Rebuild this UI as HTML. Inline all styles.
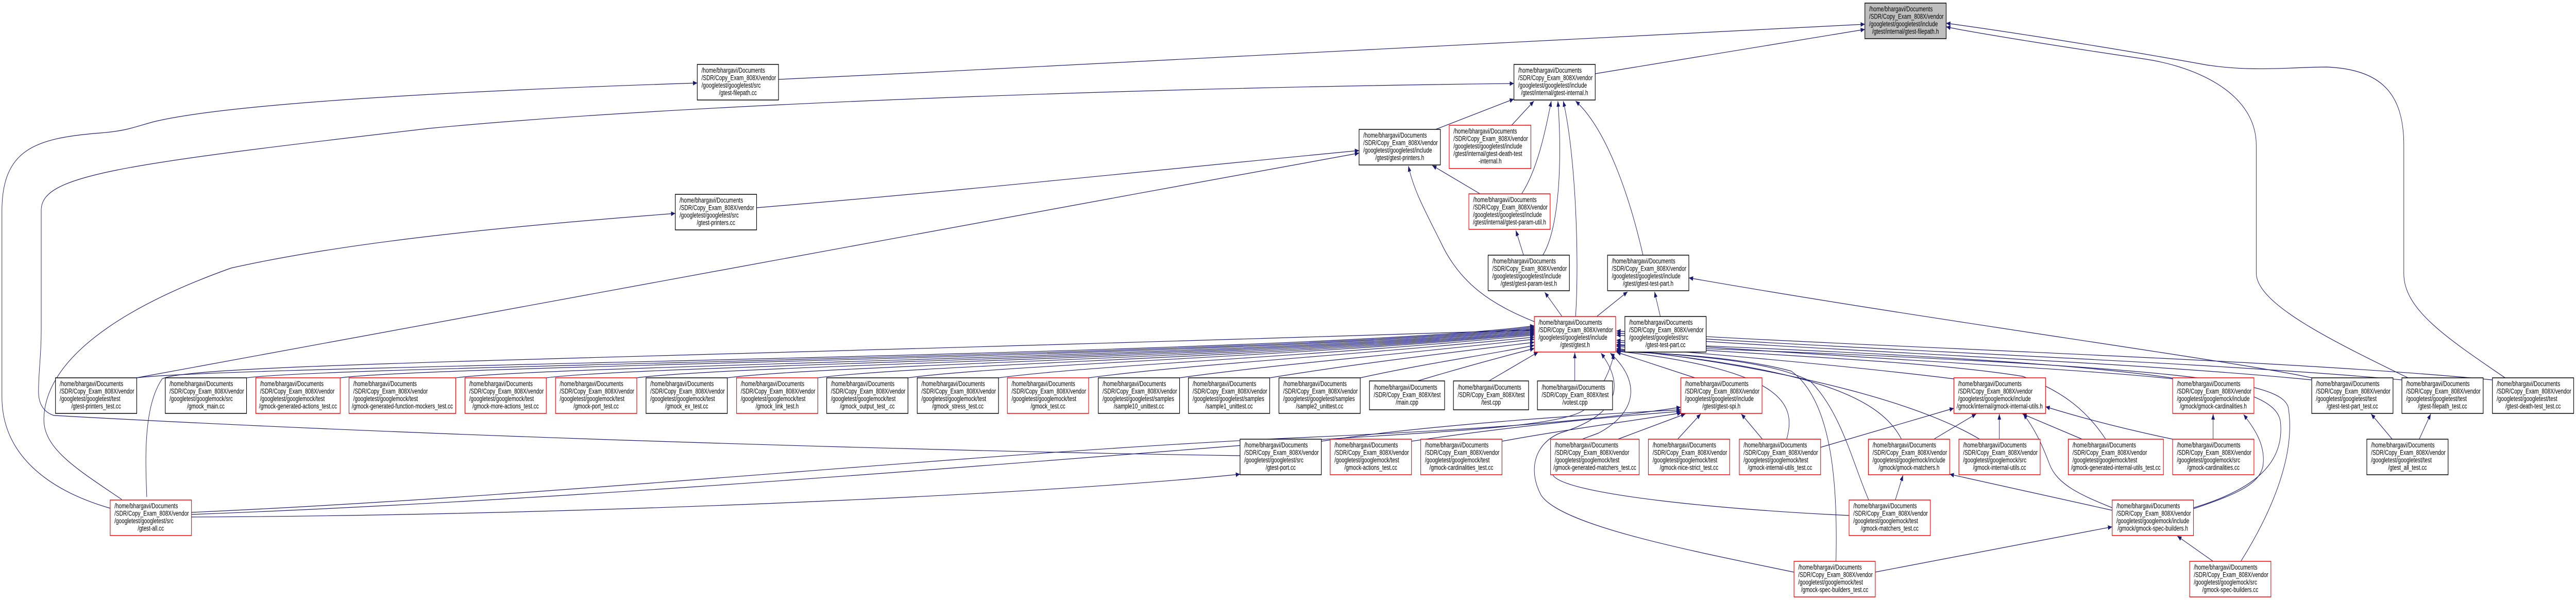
<!DOCTYPE html>
<html><head><meta charset="utf-8">
<meta name="viewport" content="width=6687">
<style>
html,body{margin:0;padding:0;background:#fff;width:100%;height:100%;overflow:hidden;}
svg{display:block;width:100vw;height:100vh;}
text{font-family:"Liberation Sans",sans-serif;font-size:13.5px;fill:#000;}
.m{text-anchor:middle;}
rect.b{fill:#fff;stroke:#000;stroke-width:1.5;}
rect.r{fill:#fff;stroke:#ff0000;stroke-width:1.5;}
rect.g{fill:#bfbfbf;stroke:#000;stroke-width:1.5;}
path.e{fill:none;stroke:#191970;stroke-width:1.2;marker-end:url(#a);}
</style></head><body>
<svg viewBox="0 0 6687 1164" preserveAspectRatio="none" xmlns="http://www.w3.org/2000/svg">
<defs><marker id="a" markerUnits="userSpaceOnUse" markerWidth="12" markerHeight="9" refX="11" refY="4.5" orient="auto"><path d="M0,0 L11,4.5 L0,9 z" fill="#191970"/></marker></defs>

<path class="e" d="M2021,154 C3000,120 4000,80 4841,47"/>
<path class="e" d="M4141,143 C4400,110 4650,80 4841,57"/>
<path class="e" d="M286,986 C120,950 5,880 5,770 L5,410 C5,290 90,268 260,258 C330,254 350,246 400,236 C600,200 1200,176 1810,161"/>
<path class="e" d="M3219,884 C2500,876 1200,850 140,806 C115,800 100,785 100,760 C100,720 107,690 107,640 L107,408 C107,340 300,320 1115,249 C1800,200 3000,170 3930,162"/>
<path class="e" d="M354,733 C1200,620 2400,450 3528,297"/>
<path class="e" d="M316,969 C200,910 110,870 114,810 C120,700 300,600 600,520 C900,470 1300,440 1753,414"/>
<path class="e" d="M1964,403 C2500,370 3000,330 3528,292"/>
<path class="e" d="M3727,251 C3800,230 3870,210 3930,192"/>
<path class="e" d="M3924,243 L3982,196"/>
<path class="e" d="M3950,376 C3990,330 4010,260 4027,196"/>
<path class="e" d="M4005,495 C4050,440 4055,300 4044,196"/>
<path class="e" d="M4090,614 C4100,500 4090,300 4058,196"/>
<path class="e" d="M4265,495 C4230,380 4170,250 4090,196"/>
<path class="e" d="M3955,495 L3935,447"/>
<path class="e" d="M3842,376 L3718,321"/>
<path class="e" d="M3983,624 C3870,590 3790,550 3740,470 C3700,410 3670,370 3656,322"/>
<path class="e" d="M4055,614 L4010,567"/>
<path class="e" d="M4145,614 L4225,566"/>
<path class="e" d="M4310,614 L4295,566"/>
<path class="e" d="M6001,733 C5800,700 5000,620 4384,539"/>
<path class="e" d="M6251,733 C6050,660 5860,590 5857,531 L5857,282 C5857,180 5700,130 5572,115 C5300,85 5100,60 5052,52"/>
<path class="e" d="M6503,733 C6350,655 6240,600 6240,531 L6240,282 C6240,180 6180,135 6041,130 C5950,130 5850,140 5728,126 C5500,95 5200,60 5052,45"/>
<path class="e" d="M381,964 C378,900 370,790 421,735 C500,705 1500,700 3983,640"/>
<path class="e" d="M497,994 C1500,960 2500,880 3345,850 C3800,835 4100,820 4363,790"/>
<path class="e" d="M497,1003 C1500,1000 2700,960 3219,920"/>
<path class="e" d="M497,998 C1500,970 2600,900 3345,857 C3700,838 4080,830 4120,790 C4160,750 4180,720 4190,686"/>

<path class="e" d="M355,733 C600,708 3400,690 3983,632"/>
<path class="e" d="M640,733 C890,708 3400,690 3983,634"/>
<path class="e" d="M883,733 C1130,708 3400,690 3983,636"/>
<path class="e" d="M1183,733 C1430,708 3400,690 3983,638"/>
<path class="e" d="M1418,733 C1670,708 3400,690 3983,640"/>
<path class="e" d="M1653,733 C1900,708 3400,690 3983,642"/>
<path class="e" d="M1888,733 C2140,708 3400,690 3983,644"/>
<path class="e" d="M2123,733 C2370,708 3400,690 3983,646"/>
<path class="e" d="M2357,733 C2600,708 3400,690 3983,648"/>
<path class="e" d="M2592,733 C2840,708 3450,690 3983,650"/>
<path class="e" d="M2826,733 C3070,708 3500,690 3983,654"/>
<path class="e" d="M3062,733 C3300,708 3600,690 3983,658"/>
<path class="e" d="M3296,733 C3500,708 3700,690 3983,664"/>
<path class="e" d="M3531,733 C3700,705 3850,690 3983,670"/>
<path class="e" d="M3680,739 C3800,712 3900,692 3983,676"/>
<path class="e" d="M3865,739 L3993,683"/>
<path class="e" d="M4088,739 L4088,684"/>

<path class="e" d="M4400,733 L4196,683"/>
<path class="e" d="M5072,735 C4800,710 4500,690 4196,672"/>
<path class="e" d="M5640,735 C5400,715 4700,690 4196,660"/>
<path class="e" d="M6001,737 C5500,700 4700,680 4196,650"/>
<path class="e" d="M6235,737 C5700,700 4700,675 4196,646"/>
<path class="e" d="M6470,737 C5900,695 4700,670 4196,642"/>
<path class="e" d="M5466,852 C5420,800 5360,760 5250,730 C5000,700 4600,690 4196,668"/>
<path class="e" d="M5139,852 C5000,790 4700,720 4196,676"/>
<path class="e" d="M4936,852 C4880,770 4700,715 4196,678"/>
<path class="e" d="M4638,852 C4660,790 4650,720 4196,681"/>
<path class="e" d="M4851,970 C4810,900 4780,800 4700,740 C4600,700 4400,690 4196,680"/>
<path class="e" d="M4766,1089 C4770,950 4760,780 4650,720 C4500,690 4300,685 4196,682"/>
<path class="e" d="M5694,985 C5850,950 5930,900 5920,820 C5910,740 5600,705 4196,664"/>
<path class="e" d="M5817,1089 C5900,990 5960,880 5940,790 C5920,740 5700,710 4196,670"/>
<path class="e" d="M4657,1110 C4400,1070 4050,1020 4000,960 C3965,910 3985,860 4050,840 C4180,810 4230,760 4156,685"/>
<path class="e" d="M4800,1000 C4500,990 4050,960 4030,920 C4010,870 4100,855 4150,840 C4250,800 4260,740 4180,685"/>

<path class="e" d="M3430,856 C3700,825 4100,805 4363,795"/>
<path class="e" d="M3664,856 C3900,830 4150,810 4363,798"/>
<path class="e" d="M3899,856 C4050,835 4250,815 4365,801"/>
<path class="e" d="M4200,852 L4375,803"/>
<path class="e" d="M4355,852 L4415,803"/>
<path class="e" d="M4575,852 L4520,803"/>

<path class="e" d="M4725,868 L5072,792"/>
<path class="e" d="M5020,852 L5130,803"/>
<path class="e" d="M5190,852 L5190,803"/>
<path class="e" d="M5405,852 L5250,803"/>
<path class="e" d="M5483,985 C5400,960 5340,940 5320,900 C5300,860 5280,830 5252,803"/>
<path class="e" d="M5640,852 C5500,830 5400,810 5310,789"/>
<path class="e" d="M4920,970 L4940,922"/>
<path class="e" d="M5483,990 L5061,920"/>
<path class="e" d="M4867,1110 L5483,1022"/>
<path class="e" d="M5745,1089 L5652,1040"/>
<path class="e" d="M5694,987 C5800,960 5870,940 5875,900 C5880,860 5850,830 5824,804"/>
<path class="e" d="M5745,852 L5745,803"/>
<path class="e" d="M6210,852 L6155,803"/>
<path class="e" d="M6280,852 L6310,803"/>

<g><rect class="g" x="4841" y="6" width="211" height="69"/><text x="4852" y="22">/home/bhargavi/Documents</text><text x="4852" y="36.5">/SDR/Copy_Exam_808X/vendor</text><text x="4852" y="51">/googletest/googletest/include</text><text class="m" x="4946.5" y="65.5">/gtest/internal/gtest-filepath.h</text></g>
<g><rect class="b" x="1810" y="125" width="211" height="69"/><text x="1821" y="141">/home/bhargavi/Documents</text><text x="1821" y="155.5">/SDR/Copy_Exam_808X/vendor</text><text x="1821" y="170">/googletest/googletest/src</text><text class="m" x="1915.5" y="184.5">/gtest-filepath.cc</text></g>
<g><rect class="b" x="3930" y="125" width="211" height="69"/><text x="3941" y="141">/home/bhargavi/Documents</text><text x="3941" y="155.5">/SDR/Copy_Exam_808X/vendor</text><text x="3941" y="170">/googletest/googletest/include</text><text class="m" x="4035.5" y="184.5">/gtest/internal/gtest-internal.h</text></g>
<g><rect class="b" x="3528" y="251" width="211" height="69"/><text x="3539" y="267">/home/bhargavi/Documents</text><text x="3539" y="281.5">/SDR/Copy_Exam_808X/vendor</text><text x="3539" y="296">/googletest/googletest/include</text><text class="m" x="3633.5" y="310.5">/gtest/gtest-printers.h</text></g>
<g><rect class="r" x="3762" y="243" width="212" height="84"/><text x="3773" y="259">/home/bhargavi/Documents</text><text x="3773" y="273.5">/SDR/Copy_Exam_808X/vendor</text><text x="3773" y="288">/googletest/googletest/include</text><text x="3773" y="302.5">/gtest/internal/gtest-death-test</text><text class="m" x="3868" y="317">-internal.h</text></g>
<g><rect class="b" x="1753" y="377" width="211" height="69"/><text x="1764" y="393">/home/bhargavi/Documents</text><text x="1764" y="407.5">/SDR/Copy_Exam_808X/vendor</text><text x="1764" y="422">/googletest/googletest/src</text><text class="m" x="1858.5" y="436.5">/gtest-printers.cc</text></g>
<g><rect class="r" x="3813" y="376" width="211" height="69"/><text x="3824" y="392">/home/bhargavi/Documents</text><text x="3824" y="406.5">/SDR/Copy_Exam_808X/vendor</text><text x="3824" y="421">/googletest/googletest/include</text><text class="m" x="3918.5" y="435.5">/gtest/internal/gtest-param-util.h</text></g>
<g><rect class="b" x="3863" y="495" width="211" height="69"/><text x="3874" y="511">/home/bhargavi/Documents</text><text x="3874" y="525.5">/SDR/Copy_Exam_808X/vendor</text><text x="3874" y="540">/googletest/googletest/include</text><text class="m" x="3968.5" y="554.5">/gtest/gtest-param-test.h</text></g>
<g><rect class="b" x="4173" y="495" width="211" height="69"/><text x="4184" y="511">/home/bhargavi/Documents</text><text x="4184" y="525.5">/SDR/Copy_Exam_808X/vendor</text><text x="4184" y="540">/googletest/googletest/include</text><text class="m" x="4278.5" y="554.5">/gtest/gtest-test-part.h</text></g>
<g><rect class="r" x="3983" y="614" width="211" height="69"/><text x="3994" y="630">/home/bhargavi/Documents</text><text x="3994" y="644.5">/SDR/Copy_Exam_808X/vendor</text><text x="3994" y="659">/googletest/googletest/include</text><text class="m" x="4088.5" y="673.5">/gtest/gtest.h</text></g>
<g><rect class="b" x="4218" y="614" width="211" height="69"/><text x="4229" y="630">/home/bhargavi/Documents</text><text x="4229" y="644.5">/SDR/Copy_Exam_808X/vendor</text><text x="4229" y="659">/googletest/googletest/src</text><text class="m" x="4323.5" y="673.5">/gtest-test-part.cc</text></g>

<g><rect class="b" x="144" y="733" width="211" height="69"/><text x="155" y="749">/home/bhargavi/Documents</text><text x="155" y="763.5">/SDR/Copy_Exam_808X/vendor</text><text x="155" y="778">/googletest/googletest/test</text><text class="m" x="249.5" y="792.5">/gtest-printers_test.cc</text></g>
<g><rect class="b" x="429" y="733" width="211" height="69"/><text x="440" y="749">/home/bhargavi/Documents</text><text x="440" y="763.5">/SDR/Copy_Exam_808X/vendor</text><text x="440" y="778">/googletest/googlemock/src</text><text class="m" x="534.5" y="792.5">/gmock_main.cc</text></g>
<g><rect class="r" x="664" y="733" width="219" height="69"/><text x="675" y="749">/home/bhargavi/Documents</text><text x="675" y="763.5">/SDR/Copy_Exam_808X/vendor</text><text x="675" y="778">/googletest/googlemock/test</text><text class="m" x="773.5" y="792.5">/gmock-generated-actions_test.cc</text></g>
<g><rect class="r" x="906" y="733" width="277" height="69"/><text x="917" y="749">/home/bhargavi/Documents</text><text x="917" y="763.5">/SDR/Copy_Exam_808X/vendor</text><text x="917" y="778">/googletest/googlemock/test</text><text class="m" x="1044.5" y="792.5">/gmock-generated-function-mockers_test.cc</text></g>
<g><rect class="r" x="1207" y="733" width="211" height="69"/><text x="1218" y="749">/home/bhargavi/Documents</text><text x="1218" y="763.5">/SDR/Copy_Exam_808X/vendor</text><text x="1218" y="778">/googletest/googlemock/test</text><text class="m" x="1312.5" y="792.5">/gmock-more-actions_test.cc</text></g>
<g><rect class="r" x="1442" y="733" width="211" height="69"/><text x="1453" y="749">/home/bhargavi/Documents</text><text x="1453" y="763.5">/SDR/Copy_Exam_808X/vendor</text><text x="1453" y="778">/googletest/googlemock/test</text><text class="m" x="1547.5" y="792.5">/gmock-port_test.cc</text></g>
<g><rect class="b" x="1677" y="733" width="211" height="69"/><text x="1688" y="749">/home/bhargavi/Documents</text><text x="1688" y="763.5">/SDR/Copy_Exam_808X/vendor</text><text x="1688" y="778">/googletest/googlemock/test</text><text class="m" x="1782.5" y="792.5">/gmock_ex_test.cc</text></g>
<g><rect class="r" x="1912" y="733" width="211" height="69"/><text x="1923" y="749">/home/bhargavi/Documents</text><text x="1923" y="763.5">/SDR/Copy_Exam_808X/vendor</text><text x="1923" y="778">/googletest/googlemock/test</text><text class="m" x="2017.5" y="792.5">/gmock_link_test.h</text></g>
<g><rect class="b" x="2146" y="733" width="211" height="69"/><text x="2157" y="749">/home/bhargavi/Documents</text><text x="2157" y="763.5">/SDR/Copy_Exam_808X/vendor</text><text x="2157" y="778">/googletest/googlemock/test</text><text class="m" x="2251.5" y="792.5">/gmock_output_test_.cc</text></g>
<g><rect class="b" x="2381" y="733" width="211" height="69"/><text x="2392" y="749">/home/bhargavi/Documents</text><text x="2392" y="763.5">/SDR/Copy_Exam_808X/vendor</text><text x="2392" y="778">/googletest/googlemock/test</text><text class="m" x="2486.5" y="792.5">/gmock_stress_test.cc</text></g>
<g><rect class="r" x="2615" y="733" width="211" height="69"/><text x="2626" y="749">/home/bhargavi/Documents</text><text x="2626" y="763.5">/SDR/Copy_Exam_808X/vendor</text><text x="2626" y="778">/googletest/googlemock/test</text><text class="m" x="2720.5" y="792.5">/gmock_test.cc</text></g>
<g><rect class="b" x="2851" y="733" width="211" height="69"/><text x="2862" y="749">/home/bhargavi/Documents</text><text x="2862" y="763.5">/SDR/Copy_Exam_808X/vendor</text><text x="2862" y="778">/googletest/googletest/samples</text><text class="m" x="2956.5" y="792.5">/sample10_unittest.cc</text></g>
<g><rect class="b" x="3085" y="733" width="211" height="69"/><text x="3096" y="749">/home/bhargavi/Documents</text><text x="3096" y="763.5">/SDR/Copy_Exam_808X/vendor</text><text x="3096" y="778">/googletest/googletest/samples</text><text class="m" x="3190.5" y="792.5">/sample1_unittest.cc</text></g>
<g><rect class="b" x="3320" y="733" width="211" height="69"/><text x="3331" y="749">/home/bhargavi/Documents</text><text x="3331" y="763.5">/SDR/Copy_Exam_808X/vendor</text><text x="3331" y="778">/googletest/googletest/samples</text><text class="m" x="3425.5" y="792.5">/sample2_unittest.cc</text></g>
<g><rect class="b" x="3555" y="739" width="195" height="56"/><text x="3566" y="756">/home/bhargavi/Documents</text><text x="3566" y="770.5">/SDR/Copy_Exam_808X/test</text><text class="m" x="3652.5" y="785">/main.cpp</text></g>
<g><rect class="b" x="3773" y="739" width="195" height="56"/><text x="3784" y="756">/home/bhargavi/Documents</text><text x="3784" y="770.5">/SDR/Copy_Exam_808X/test</text><text class="m" x="3870.5" y="785">/test.cpp</text></g>
<g><rect class="b" x="3991" y="739" width="195" height="56"/><text x="4002" y="756">/home/bhargavi/Documents</text><text x="4002" y="770.5">/SDR/Copy_Exam_808X/test</text><text class="m" x="4088.5" y="785">/votest.cpp</text></g>
<g><rect class="r" x="4363" y="733" width="211" height="69"/><text x="4374" y="749">/home/bhargavi/Documents</text><text x="4374" y="763.5">/SDR/Copy_Exam_808X/vendor</text><text x="4374" y="778">/googletest/googletest/include</text><text class="m" x="4468.5" y="792.5">/gtest/gtest-spi.h</text></g>
<g><rect class="r" x="5072" y="733" width="238" height="69"/><text x="5083" y="749">/home/bhargavi/Documents</text><text x="5083" y="763.5">/SDR/Copy_Exam_808X/vendor</text><text x="5083" y="778">/googletest/googlemock/include</text><text class="m" x="5191" y="792.5">/gmock/internal/gmock-internal-utils.h</text></g>
<g><rect class="r" x="5640" y="733" width="211" height="69"/><text x="5651" y="749">/home/bhargavi/Documents</text><text x="5651" y="763.5">/SDR/Copy_Exam_808X/vendor</text><text x="5651" y="778">/googletest/googlemock/include</text><text class="m" x="5745.5" y="792.5">/gmock/gmock-cardinalities.h</text></g>
<g><rect class="b" x="6001" y="733" width="211" height="69"/><text x="6012" y="749">/home/bhargavi/Documents</text><text x="6012" y="763.5">/SDR/Copy_Exam_808X/vendor</text><text x="6012" y="778">/googletest/googletest/test</text><text class="m" x="6106.5" y="792.5">/gtest-test-part_test.cc</text></g>
<g><rect class="b" x="6235" y="733" width="211" height="69"/><text x="6246" y="749">/home/bhargavi/Documents</text><text x="6246" y="763.5">/SDR/Copy_Exam_808X/vendor</text><text x="6246" y="778">/googletest/googletest/test</text><text class="m" x="6340.5" y="792.5">/gtest-filepath_test.cc</text></g>
<g><rect class="b" x="6470" y="733" width="211" height="69"/><text x="6481" y="749">/home/bhargavi/Documents</text><text x="6481" y="763.5">/SDR/Copy_Exam_808X/vendor</text><text x="6481" y="778">/googletest/googletest/test</text><text class="m" x="6575.5" y="792.5">/gtest-death-test_test.cc</text></g>

<g><rect class="b" x="3219" y="852" width="211" height="69"/><text x="3230" y="868">/home/bhargavi/Documents</text><text x="3230" y="882.5">/SDR/Copy_Exam_808X/vendor</text><text x="3230" y="897">/googletest/googletest/src</text><text class="m" x="3324.5" y="911.5">/gtest-port.cc</text></g>
<g><rect class="r" x="3453" y="852" width="211" height="69"/><text x="3464" y="868">/home/bhargavi/Documents</text><text x="3464" y="882.5">/SDR/Copy_Exam_808X/vendor</text><text x="3464" y="897">/googletest/googlemock/test</text><text class="m" x="3558.5" y="911.5">/gmock-actions_test.cc</text></g>
<g><rect class="r" x="3688" y="852" width="211" height="69"/><text x="3699" y="868">/home/bhargavi/Documents</text><text x="3699" y="882.5">/SDR/Copy_Exam_808X/vendor</text><text x="3699" y="897">/googletest/googlemock/test</text><text class="m" x="3793.5" y="911.5">/gmock-cardinalities_test.cc</text></g>
<g><rect class="r" x="4025" y="852" width="230" height="69"/><text x="4036" y="868">/home/bhargavi/Documents</text><text x="4036" y="882.5">/SDR/Copy_Exam_808X/vendor</text><text x="4036" y="897">/googletest/googlemock/test</text><text class="m" x="4140" y="911.5">/gmock-generated-matchers_test.cc</text></g>
<g><rect class="r" x="4279" y="852" width="211" height="69"/><text x="4290" y="868">/home/bhargavi/Documents</text><text x="4290" y="882.5">/SDR/Copy_Exam_808X/vendor</text><text x="4290" y="897">/googletest/googlemock/test</text><text class="m" x="4384.5" y="911.5">/gmock-nice-strict_test.cc</text></g>
<g><rect class="r" x="4515" y="852" width="211" height="69"/><text x="4526" y="868">/home/bhargavi/Documents</text><text x="4526" y="882.5">/SDR/Copy_Exam_808X/vendor</text><text x="4526" y="897">/googletest/googlemock/test</text><text class="m" x="4620.5" y="911.5">/gmock-internal-utils_test.cc</text></g>
<g><rect class="r" x="4850" y="852" width="211" height="69"/><text x="4861" y="868">/home/bhargavi/Documents</text><text x="4861" y="882.5">/SDR/Copy_Exam_808X/vendor</text><text x="4861" y="897">/googletest/googlemock/include</text><text class="m" x="4955.5" y="911.5">/gmock/gmock-matchers.h</text></g>
<g><rect class="r" x="5085" y="852" width="211" height="69"/><text x="5096" y="868">/home/bhargavi/Documents</text><text x="5096" y="882.5">/SDR/Copy_Exam_808X/vendor</text><text x="5096" y="897">/googletest/googlemock/src</text><text class="m" x="5190.5" y="911.5">/gmock-internal-utils.cc</text></g>
<g><rect class="r" x="5369" y="852" width="247" height="69"/><text x="5380" y="868">/home/bhargavi/Documents</text><text x="5380" y="882.5">/SDR/Copy_Exam_808X/vendor</text><text x="5380" y="897">/googletest/googlemock/test</text><text class="m" x="5492.5" y="911.5">/gmock-generated-internal-utils_test.cc</text></g>
<g><rect class="r" x="5640" y="852" width="211" height="69"/><text x="5651" y="868">/home/bhargavi/Documents</text><text x="5651" y="882.5">/SDR/Copy_Exam_808X/vendor</text><text x="5651" y="897">/googletest/googlemock/src</text><text class="m" x="5745.5" y="911.5">/gmock-cardinalities.cc</text></g>
<g><rect class="b" x="6144" y="852" width="211" height="69"/><text x="6155" y="868">/home/bhargavi/Documents</text><text x="6155" y="882.5">/SDR/Copy_Exam_808X/vendor</text><text x="6155" y="897">/googletest/googletest/test</text><text class="m" x="6249.5" y="911.5">/gtest_all_test.cc</text></g>

<g><rect class="r" x="286" y="970" width="211" height="69"/><text x="297" y="986">/home/bhargavi/Documents</text><text x="297" y="1000.5">/SDR/Copy_Exam_808X/vendor</text><text x="297" y="1015">/googletest/googletest/src</text><text class="m" x="391.5" y="1029.5">/gtest-all.cc</text></g>
<g><rect class="r" x="4800" y="970" width="211" height="69"/><text x="4811" y="986">/home/bhargavi/Documents</text><text x="4811" y="1000.5">/SDR/Copy_Exam_808X/vendor</text><text x="4811" y="1015">/googletest/googlemock/test</text><text class="m" x="4905.5" y="1029.5">/gmock-matchers_test.cc</text></g>
<g><rect class="r" x="5483" y="970" width="211" height="69"/><text x="5494" y="986">/home/bhargavi/Documents</text><text x="5494" y="1000.5">/SDR/Copy_Exam_808X/vendor</text><text x="5494" y="1015">/googletest/googlemock/include</text><text class="m" x="5588.5" y="1029.5">/gmock/gmock-spec-builders.h</text></g>

<g><rect class="r" x="4657" y="1089" width="211" height="69"/><text x="4668" y="1105">/home/bhargavi/Documents</text><text x="4668" y="1119.5">/SDR/Copy_Exam_808X/vendor</text><text x="4668" y="1134">/googletest/googlemock/test</text><text class="m" x="4762.5" y="1148.5">/gmock-spec-builders_test.cc</text></g>
<g><rect class="r" x="5684" y="1089" width="211" height="69"/><text x="5695" y="1105">/home/bhargavi/Documents</text><text x="5695" y="1119.5">/SDR/Copy_Exam_808X/vendor</text><text x="5695" y="1134">/googletest/googlemock/src</text><text class="m" x="5789.5" y="1148.5">/gmock-spec-builders.cc</text></g>
</svg>
</body></html>
